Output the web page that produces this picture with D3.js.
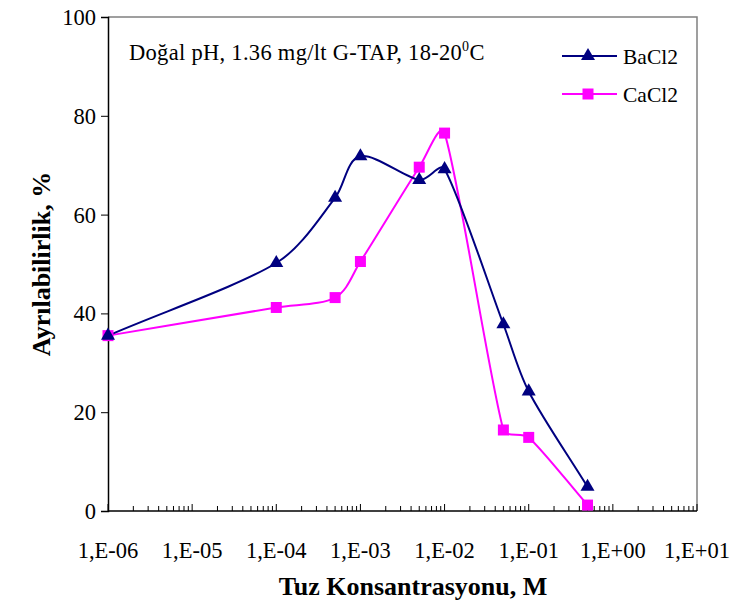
<!DOCTYPE html>
<html><head><meta charset="utf-8">
<script src="https://cdn.jsdelivr.net/npm/d3@7"></script>
<style>body{margin:0;background:#fff}svg{display:block}text{font-family:"Liberation Serif","Times New Roman",serif;fill:#000}</style>
</head><body>
<script>
const concBa = [1e-6, 1e-4, 5e-4, 1e-3, 5e-3, 1e-2, 5e-2, 1e-1, 5e-1];
const valBa  = [35.5, 50.2, 63.4, 71.8, 67.0, 69.2, 37.8, 24.2, 4.9];
const concCa = [1e-6, 1e-4, 5e-4, 1e-3, 5e-3, 1e-2, 5e-2, 1e-1, 5e-1];
const valCa  = [35.5, 41.2, 43.2, 50.5, 69.6, 76.5, 16.4, 14.9, 1.2];
const xTickVals = [1e-6,1e-5,1e-4,1e-3,1e-2,1e-1,1,10];
const xTickLabels = ["1,E-06","1,E-05","1,E-04","1,E-03","1,E-02","1,E-01","1,E+00","1,E+01"];
const yTicks = [0,20,40,60,80,100];
const seriesNames = ["BaCl2","CaCl2"];

const W=731,H=606;
const L=108,R=697,T=17,B=511;
const svg=d3.select("body").append("svg").attr("width",W).attr("height",H);
const x=d3.scaleLog().domain([1e-6,10]).range([L,R]);
const y=d3.scaleLinear().domain([0,100]).range([B,T]);

// frame top/right
svg.append("path").attr("d",`M${L},${T}H${R}V${B}`).attr("fill","none").attr("stroke","#808080").attr("stroke-width",1.5);

// y axis
const ya=svg.append("g").attr("transform",`translate(${L},0)`)
 .call(d3.axisLeft(y).tickValues(yTicks).tickSize(7).tickPadding(5).tickFormat(d3.format("d")));
ya.attr("font-family",null);
ya.select(".domain").attr("stroke","#000").attr("stroke-width",1.5);
ya.selectAll(".tick line").attr("stroke","#000");
ya.selectAll("text").attr("font-size",22.5).attr("fill","#000").attr("dy","0.33em");

// x axis with inner ticks
const minor=[];
for(let e=-6;e<1;e++){for(let m=2;m<=9;m++)minor.push(m*Math.pow(10,e));}
const xg=svg.append("g").attr("transform",`translate(0,${B})`);
xg.append("line").attr("x1",L).attr("x2",R).attr("stroke","#000").attr("stroke-width",1.5);
xg.selectAll(".mn").data(minor).join("line").attr("x1",d=>x(d)).attr("x2",d=>x(d)).attr("y1",0).attr("y2",-5).attr("stroke","#000");
xg.selectAll(".mj").data(xTickVals).join("line").attr("x1",d=>x(d)).attr("x2",d=>x(d)).attr("y1",0).attr("y2",-7).attr("stroke","#000");
xg.selectAll(".lb").data(xTickVals).join("text").attr("x",d=>x(d)).attr("y",47).attr("text-anchor","middle")
 .attr("font-size",22.5).text((d,i)=>xTickLabels[i]);

// titles
svg.append("text").attr("x",413).attr("y",595).attr("text-anchor","middle").attr("font-size",26).attr("font-weight","bold").text("Tuz Konsantrasyonu, M");
svg.append("text").attr("transform",`translate(50,264) rotate(-90)`).attr("text-anchor","middle").attr("font-size",26).attr("font-weight","bold").text("Ayrılabilirlik, %");

// annotation
const ann=svg.append("text").attr("x",129).attr("y",60).attr("font-size",22.5).attr("letter-spacing",0.3);
ann.append("tspan").text("Doğal pH, 1.36 mg/lt G-TAP, 18-20");
ann.append("tspan").attr("font-size",14).attr("dy",-9).text("0");
ann.append("tspan").attr("dy",9).text("C");

// Excel-like smoothed line: Catmull-Rom tangents, arms clamped to segment length
function smoothPath(pts){
  const P=pts.map(d=>[x(d[0]),y(d[1])]);
  const n=P.length, p=d3.path();
  const tan=P.map((pt,i)=>{
    const a=P[Math.max(0,i-1)], b=P[Math.min(n-1,i+1)];
    const f=(i===0||i===n-1)?1/3:1/6;
    return [(b[0]-a[0])*f,(b[1]-a[1])*f];
  });
  const clamp=(t,len)=>{const m=Math.hypot(t[0],t[1]),mx=len*0.33;const s=m>mx&&m>0?mx/m:1;return [t[0]*s,t[1]*s];};
  p.moveTo(P[0][0],P[0][1]);
  for(let i=0;i<n-1;i++){
    const a=P[i],b=P[i+1],len=Math.hypot(b[0]-a[0],b[1]-a[1]);
    const t1=clamp(tan[i],len),t2=clamp(tan[i+1],len);
    p.bezierCurveTo(a[0]+t1[0],a[1]+t1[1],b[0]-t2[0],b[1]-t2[1],b[0],b[1]);
  }
  return p.toString();
}
const ba=concBa.map((c,i)=>[c,valBa[i]]);
const ca=concCa.map((c,i)=>[c,valCa[i]]);
const cBa="#000080",cCa="#FF00FF";
const tri=d3.symbol().type(d3.symbolTriangle).size(85);
const sq=d3.symbol().type(d3.symbolSquare).size(121);

svg.append("path").attr("d",smoothPath(ca)).attr("fill","none").attr("stroke",cCa).attr("stroke-width",2);
svg.append("path").attr("d",smoothPath(ba)).attr("fill","none").attr("stroke",cBa).attr("stroke-width",2);
svg.selectAll(".sq").data(ca).join("path").attr("d",sq).attr("transform",d=>`translate(${x(d[0])},${y(d[1])})`).attr("fill",cCa);
svg.selectAll(".tr").data(ba).join("path").attr("d",tri).attr("transform",d=>`translate(${x(d[0])},${y(d[1])})`).attr("fill",cBa);

// legend
const lg=[{n:seriesNames[0],c:cBa,s:tri,y:56},{n:seriesNames[1],c:cCa,s:sq,y:94}];
lg.forEach(o=>{
 svg.append("line").attr("x1",562).attr("x2",617).attr("y1",o.y).attr("y2",o.y).attr("stroke",o.c).attr("stroke-width",2);
 svg.append("path").attr("d",o.s).attr("transform",`translate(588,${o.y})`).attr("fill",o.c);
 svg.append("text").attr("x",623).attr("y",o.y+8).attr("font-size",21.5).text(o.n);
});
</script>
</body></html>
